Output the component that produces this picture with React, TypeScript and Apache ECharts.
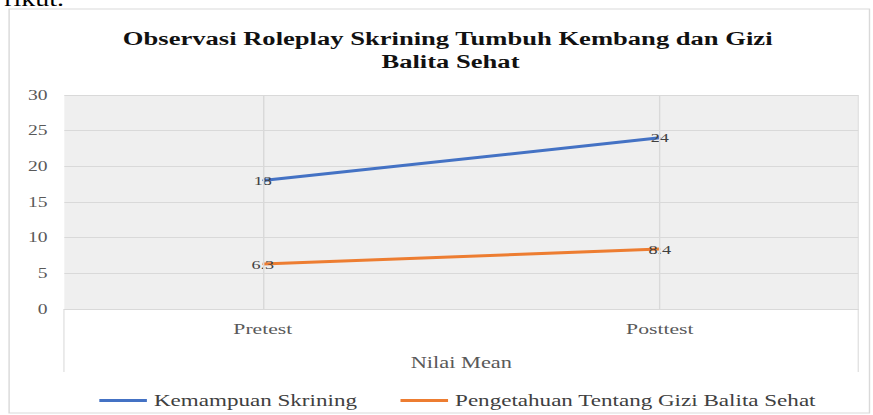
import React, { useEffect, useRef } from "react";
import * as echarts from "echarts";

const categories = ["Pretest", "Posttest"];
const kemampuanSkrining = [18, 24];
const pengetahuanGizi = [6.3, 8.4];
const seriesNames = ["Kemampuan Skrining", "Pengetahuan Tentang Gizi Balita Sehat"];
const titleLines = ["Observasi Roleplay Skrining Tumbuh Kembang dan Gizi", "Balita Sehat"];
const axisName = "Nilai Mean";
const docFragment = "rikut.";

const SCALE = 1.399;
const W = 624;
const H = 415;
const FAMILY = "Liberation Serif";

export default function App() {
  const ref = useRef<HTMLDivElement>(null);

  useEffect(() => {
    if (!ref.current) return;
    const chart = echarts.init(ref.current, undefined, { renderer: "svg" });
    chart.setOption({
      animation: false,
      backgroundColor: "#ffffff",
      textStyle: { fontFamily: FAMILY },
      graphic: [
        {
          type: "rect",
          shape: { x: 6.5, y: 9, width: 615, height: 404 },
          style: { fill: "none", stroke: "#d9d9d9", lineWidth: 1 },
          silent: true,
        },
        {
          type: "text",
          x: 3,
          y: 9,
          style: {
            text: docFragment,
            fontFamily: FAMILY,
            fontSize: 20,
            fill: "#000000",
            textVerticalAlign: "bottom",
          },
        },
        {
          type: "text",
          x: 320,
          y: 38,
          style: {
            text: titleLines[0],
            fontFamily: FAMILY,
            fontSize: 19,
            fontWeight: "bold",
            fill: "#111111",
            textAlign: "center",
            textVerticalAlign: "middle",
          },
        },
        {
          type: "text",
          x: 322,
          y: 61,
          style: {
            text: titleLines[1],
            fontFamily: FAMILY,
            fontSize: 19,
            fontWeight: "bold",
            fill: "#111111",
            textAlign: "center",
            textVerticalAlign: "middle",
          },
        },
        {
          type: "line",
          shape: { x1: 45.7, y1: 309, x2: 45.7, y2: 372 },
          style: { stroke: "#e3e3e3", lineWidth: 1 },
          silent: true,
        },
        {
          type: "line",
          shape: { x1: 613.5, y1: 95, x2: 613.5, y2: 372 },
          style: { stroke: "#e3e3e3", lineWidth: 1 },
          silent: true,
        },
      ],
      grid: {
        left: 46,
        right: 10.5,
        top: 95,
        bottom: 106,
        show: true,
        backgroundColor: "#efefef",
        borderWidth: 0,
      },
      legend: {
        left: 66,
        top: 387,
        itemWidth: 34,
        itemHeight: 3,
        itemGap: 31,
        icon: "rect",
        textStyle: { fontFamily: FAMILY, fontSize: 16.5, color: "#404040" },
        data: seriesNames,
      },
      xAxis: {
        type: "category",
        data: categories,
        boundaryGap: true,
        axisLine: { show: true, lineStyle: { color: "#d9d9d9", width: 1 } },
        axisTick: { show: false },
        axisLabel: { fontFamily: FAMILY, fontSize: 15.5, color: "#595959", margin: 12 },
        splitLine: { show: false },
        name: axisName,
        nameLocation: "middle",
        nameGap: 46,
        nameTextStyle: { fontFamily: FAMILY, fontSize: 16, color: "#595959" },
      },
      yAxis: {
        type: "value",
        min: 0,
        max: 30,
        interval: 5,
        axisLine: { show: false },
        axisTick: { show: false },
        axisLabel: { fontFamily: FAMILY, fontSize: 14, color: "#595959", margin: 12 },
        splitLine: { show: true, lineStyle: { color: "#d9d9d9", width: 1 } },
      },
      series: [
        {
          name: seriesNames[0],
          type: "line",
          data: kemampuanSkrining,
          symbol: "circle",
          symbolSize: 1,
          lineStyle: { color: "#4472C4", width: 3 },
          itemStyle: { color: "#4472C4" },
          label: {
            show: true,
            position: "inside",
            fontFamily: FAMILY,
            fontSize: 13,
            color: "#404040",
          },
          markLine: {
            silent: true,
            symbol: ["none", "none"],
            label: { show: false },
            lineStyle: { color: "#d9d9d9", type: "solid", width: 1 },
            data: [{ xAxis: categories[0] }, { xAxis: categories[1] }],
          },
          z: 3,
        },
        {
          name: seriesNames[1],
          type: "line",
          data: pengetahuanGizi,
          symbol: "circle",
          symbolSize: 1,
          lineStyle: { color: "#ED7D31", width: 3 },
          itemStyle: { color: "#ED7D31" },
          label: {
            show: true,
            position: "inside",
            fontFamily: FAMILY,
            fontSize: 13,
            color: "#404040",
          },
          z: 4,
        },
      ],
    });
    return () => chart.dispose();
  }, []);

  return (
    <div
      ref={ref}
      style={{
        position: "absolute",
        left: 0,
        top: 0,
        width: W,
        height: H,
        transform: `scaleX(${SCALE})`,
        transformOrigin: "0 0",
        background: "#ffffff",
      }}
    />
  );
}
